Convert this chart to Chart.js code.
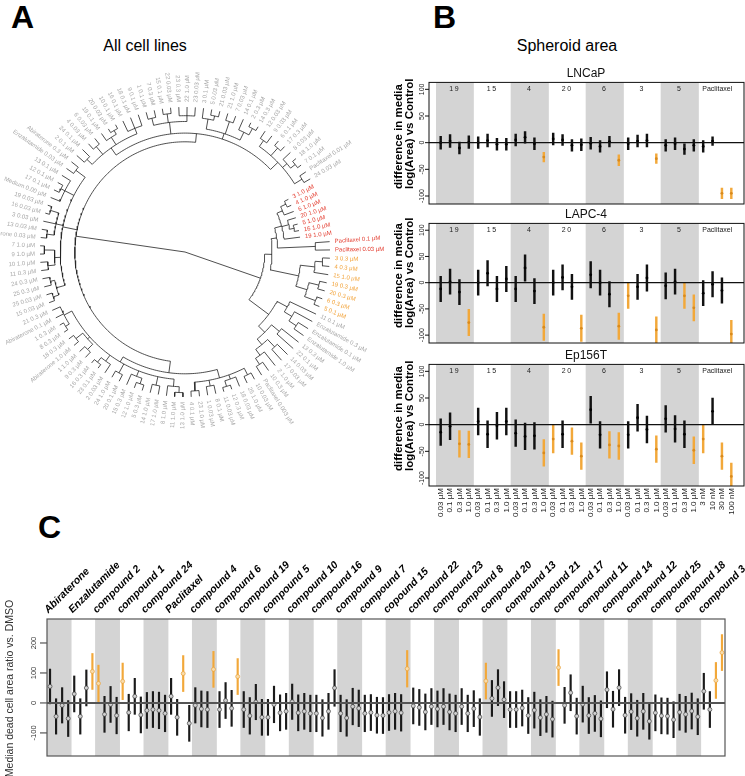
<!DOCTYPE html>
<html>
<head>
<meta charset="utf-8">
<script src="https://cdn.jsdelivr.net/npm/chart.js@4.4.1/dist/chart.umd.min.js"></script>
<style>
  html, body { margin:0; padding:0; background:#fff; }
  body { width:745px; height:776px; overflow:hidden; position:relative; font-family:'Liberation Sans', Arial, sans-serif; color:#000; }
  .abs { position:absolute; }
  .plab { font-weight:bold; font-size:32px; line-height:32px; }
  .ptitle { font-size:16px; line-height:16px; text-align:center; }
</style>
</head>
<body>
<div class="abs plab" style="left:11px; top:1px;">A</div>
<div class="abs plab" style="left:433px; top:1px;">B</div>
<div class="abs plab" style="left:38px; top:511px;">C</div>
<div class="abs ptitle" style="left:45px; width:200px; top:38px;">All cell lines</div>
<div class="abs ptitle" style="left:467px; width:200px; top:38px;">Spheroid area</div>
<canvas id="cA" class="abs" width="400" height="400" style="left:0; top:60px;"></canvas>
<canvas id="cB1" class="abs" width="375" height="146" style="left:370px; top:62px;"></canvas>
<canvas id="cB2" class="abs" width="375" height="144" style="left:370px; top:203px;"></canvas>
<canvas id="cB3" class="abs" width="375" height="182" style="left:370px; top:344px;"></canvas>
<canvas id="cC" class="abs" width="800" height="236" style="left:0; top:540px;"></canvas>
<script>
/* ================= DATA ================= */
/* Panel A: dendrogram leaves (clockwise order) */
const leafLabelsA = [
  '3 1.0 µM','4 1.0 µM','6 1.0 µM','20 1.0 µM','5 1.0 µM','16 1.0 µM','19 1.0 µM','Paclitaxel 0.1 µM','Paclitaxel 0.03 µM',
  '3 0.3 µM','4 0.3 µM','15 1.0 µM','19 0.3 µM','20 0.3 µM','6 0.3 µM','5 0.1 µM',
  '11 0.1 µM','Enzalutamide 0.3 µM','Enzalutamide 0.1 µM','Enzalutamide 1.0 µM','13 0.3 µM','22 0.1 µM','14 0.03 µM','17 0.03 µM',
  '2 1.0 µM','10 0.3 µM','Paclitaxel 0.003 µM','10 0.03 µM','25 1.0 µM','18 0.03 µM','12 0.3 µM','11 0.03 µM','8 0.1 µM',
  '1 0.03 µM','23 1.0 µM','4 0.1 µM','13 1.0 µM','11 1.0 µM','8 1.0 µM','17 1.0 µM','14 1.0 µM','5 0.3 µM','12 1.0 µM',
  '15 0.3 µM','20 0.1 µM','24 1.0 µM','2 0.03 µM','23 0.1 µM','16 0.3 µM','9 0.3 µM','1 1.0 µM','Abiraterone 1.0 µM',
  '18 0.3 µM','8 0.3 µM','1 0.3 µM','Abiraterone 0.1 µM','21 0.3 µM','15 0.03 µM','25 0.03 µM','25 0.3 µM','24 0.3 µM',
  '11 0.3 µM','10 1.0 µM','9 1.0 µM','7 1.0 µM','Abiraterone 0.03 µM','13 0.03 µM','3 0.03 µM','16 0.03 µM','19 0.03 µM',
  'Medium 0.00 µM','17 0.1 µM','12 0.1 µM','13 0.1 µM','Enzalutamide 0.03 µM','Abiraterone 0.3 µM','2 0.1 µM','24 0.1 µM',
  '4 0.03 µM','6 0.03 µM','19 0.1 µM','20 0.03 µM','10 0.1 µM','16 0.1 µM','18 0.1 µM','9 0.1 µM','1 0.1 µM','7 0.3 µM',
  '15 0.1 µM','22 0.03 µM','23 0.3 µM','22 1.0 µM','23 0.03 µM','3 0.1 µM','5 0.03 µM','21 0.03 µM','21 1.0 µM','7 0.03 µM',
  '14 0.1 µM','2 0.3 µM','14 0.3 µM','12 0.03 µM','9 0.03 µM','6 0.1 µM','17 0.3 µM','8 0.03 µM','18 1.0 µM','7 0.1 µM',
  'Paclitaxel 0.01 µM','24 0.03 µM'
];
const redLeavesA = [0,1,2,3,4,5,6,7,8];
const orangeLeavesA = [9,10,11,12,13,14,15];
/* leaves whose branches end early (shorter tip height) */
const shortTipLeavesA = [0,1,2,3,4,5,6];
/* tree: [nodeHeight(radius), child, child, ...]; leaves are indexes into leafLabelsA */
const treeA = [0,
  [0.76,
    [0.84,
      [0.9, [0.95, 27, 28], [0.93, 29, [0.97, 30, 31]], [0.94, 32, 33], [0.96, 34, 35]],
      [0.88, [0.93, [0.97, 36, 37], 38], [0.94, 39, 40], [0.92, [0.96, 41, 42], 43], [0.95, 44, 45],
             [0.93, 46, [0.97, 47, 48]], [0.9, [0.95, 49, 50], [0.96, 51, 52]], [0.94, [0.97, 53, 54], 55, 56]]],
    [0.86, [0.92, [0.96, 57, 58], [0.95, 59, 60]], [0.9, [0.95, 61, 62], [0.97, 63, 64]],
           [0.91, [0.96, 65, 66], 67, [0.97, 68, 69]], [0.93, 70, [0.96, 71, 72], 73], [0.94, 74, 75]],
    [0.82, [0.88, [0.93, 76, 77], [0.95, 78, 79], [0.94, 80, [0.97, 81, 82]], [0.92, 83, 84, 85]],
           [0.9, [0.95, 86, 87], [0.96, 88, 89], [0.94, 90, 91, 92]],
           [0.86, [0.93, 93, [0.96, 94, 95]], [0.95, 96, 97], [0.92, 98, [0.97, 99, 100]]],
           [0.89, [0.94, 101, 102], [0.96, 103, 104], [0.93, 105, [0.97, 106, 107]], [0.95, 108, 109]]]],
  [0.55,
    [0.6,
      [0.64, [0.69, [0.73, [0.77, 0, 1], 2], [0.74, 3, [0.77, 4, 5]], 6], [0.9, 7, 8]],
      [0.8, [0.9, [0.95, 9, 10], 11], [0.88, [0.95, 12, 13], [0.96, 14, 15]]]],
    [0.72, [0.8, 16, [0.86, 17, [0.92, 18, 19]]],
           [0.78, [0.85, 20, 21], [0.83, [0.9, 22, 23], [0.88, 24, [0.93, 25, 26]]]]]]
];

/* Panel B: spheroid area */
const groupsB = ['19','15','4','20','6','3','5','Paclitaxel'];
const concUM_B = ['0.03 µM','0.1 µM','0.3 µM','1.0 µM'];
const concPac_B = ['3 nM','10 nM','30 nM','100 nM'];
const yTicksB = [100, 50, 0, -50, -100];
const lncapMean = [0,3,-10,1, 0,4,-3,-3, 5,10,-2,-27, 7,5,-5,-4, -1,-7,2,-33, -2,3,4,-30, -5,-2,-12,-5, -7,3,-95,-95];
const lncapErr  = [12,12,11,12, 11,12,11,11, 11,11,11,9, 11,10,11,11, 11,11,10,10, 11,11,12,9, 11,11,10,11, 11,8,10,10];
const lncapSig  = [11,19,23,30,31];
const lapcMean  = [-12,2,-18,-76, 0,18,-12,7, -12,28,-16,-85, 0,10,-8,-87, 15,0,-22,-83, -25,-8,9,-90, -6,2,-25,-48, -20,-3,-15,-98];
const lapcErr   = [24,24,24,25, 24,24,24,24, 24,25,24,25, 24,24,24,25, 25,24,24,25, 24,24,25,25, 25,24,24,25, 24,24,24,26];
const lapcSig   = [3,11,15,19,20,23,26,27,31];
const ep156Mean = [-14,-3,-36,-37, 6,-18,-2,6, -16,-22,-21,-53, -27,-18,-31,-59, 28,-19,-38,-40, -19,13,-9,-46, 11,-8,-18,-48, -27,25,-59,-97];
const ep156Err  = [25,25,25,25, 25,25,25,25, 25,25,25,25, 26,25,25,25, 25,25,25,25, 25,25,25,25, 25,25,25,25, 26,25,25,25];
const ep156Sig  = [2,3,11,12,14,15,18,19,23,27,28,30,31];

/* Panel C: median dead cell area ratio */
const groupsC = ['Abiraterone','Enzalutamide','compound 2','compound 1','compound 24','Paclitaxel','compound 4','compound 6',
  'compound 19','compound 5','compound 10','compound 16','compound 9','compound 7','copound 15','compound 22','compound 23',
  'compound 8','compound 20','compound 13','compound 21','compound 17','compound 11','compound 14','compound 12','compound 25',
  'compound 18','compound 3'];
const concC = ['0.03 µM','0.1 µM','0.3 µM','1.0 µM'];
const yTicksC = [200, 100, 0, -100];
const meanC = [55,-45,-8,-52, 30,-45,50,105, 65,-38,-5,-42, 72,-32,22,-40, -25,-22,-25,-35, 22,-48,98,-68,
  -8,-20,-22,112, -22,8,-18,88, -22,-43,3,-48, -48,-5,-33,-28, 4,-33,-28,-35, -35,-50,-28,50,
  -35,-50,-12,-18, -35,-32,-41,-42, -32,-28,-33,114, -10,-15,-30,-12, -20,-12,-30,-35, -12,-35,-19,-47,
  73,15,51,11, -22,-22,-17,-42, -24,-49,-38,-54, 118,-8,34,-44, -4,-42,-35,-53, 44,-21,51,-41,
  -29,-51,-28,-61, -33,-43,-44,-56, -31,-38,-27,-46, 39,-22,75,168];
const errC = [58,59,59,60, 60,59,60,60, 61,60,60,61, 61,61,60,60, 60,60,61,61, 60,60,60,60,
  59,60,60,60, 60,60,60,60, 60,61,59,60, 60,61,60,60, 59,60,60,61, 61,61,60,61,
  61,61,61,61, 61,60,60,60, 60,60,61,61, 60,60,60,60, 60,60,60,61, 60,61,60,61,
  60,60,60,60, 60,60,60,60, 60,60,60,60, 60,60,60,60, 60,60,60,60, 60,60,60,60,
  60,60,60,60, 60,60,60,60, 60,60,60,60, 60,60,60,60];
const sigC = [7,8,12,22,27,31,59,72,84,110,111];

/* ================= RENDER ================= */
const FONT = "'Liberation Sans', Arial, Helvetica, sans-serif";
Chart.defaults.font.family = FONT;
Chart.defaults.animation = false;
Chart.defaults.events = [];
Chart.defaults.plugins.legend.display = false;
Chart.defaults.plugins.tooltip.enabled = false;
const BLACK = '#111111', ORANGE = '#f2a83a', BAND = '#d4d4d4';

/* ---------- Panel A ---------- */
const firstLeafAngleA = 27;
const stepA = 360 / leafLabelsA.length;
const leafAngle = i => (firstLeafAngleA - i * stepA) * Math.PI / 180;
const tipR = i => shortTipLeavesA.includes(i) ? 0.8 : 1;
const segsA = [];
const GAP = {x: NaN, y: NaN};
const P = (r, t) => ({x: r * Math.cos(t), y: r * Math.sin(t)});
function walk(node) {
  if (typeof node === 'number') return {a: leafAngle(node), r: tipR(node)};
  const r = node[0];
  const kids = node.slice(1).map(walk);
  const angs = kids.map(k => k.a);
  const a0 = Math.min(...angs), a1 = Math.max(...angs);
  if (r > 0) {
    const n = Math.max(2, Math.ceil((a1 - a0) / (Math.PI / 180)));
    for (let k = 0; k <= n; k++) segsA.push(P(r, a0 + (a1 - a0) * k / n));
    segsA.push(GAP);
  }
  kids.forEach(k => { segsA.push(P(r, k.a), P(k.r, k.a), GAP); });
  return {a: angs.reduce((s, v) => s + v, 0) / angs.length, r};
}
walk(treeA);

new Chart(document.getElementById('cA'), {
  type: 'scatter',
  data: { datasets: [{ data: segsA, showLine: true, spanGaps: false, pointRadius: 0, borderColor: '#222', borderWidth: 0.8 }] },
  options: {
    responsive: false, layout: { padding: 0 },
    scales: {
      x: { type: 'linear', min: -185 / 145, max: (400 - 185) / 145, display: false },
      y: { type: 'linear', min: -(400 - 192) / 145, max: 192 / 145, display: false }
    }
  },
  plugins: [{
    id: 'leafLabels',
    afterDatasetsDraw(chart) {
      const ctx = chart.ctx, xs = chart.scales.x, ys = chart.scales.y;
      ctx.save();
      ctx.font = '6px ' + FONT;
      ctx.textBaseline = 'middle';
      leafLabelsA.forEach((lab, i) => {
        const t = leafAngle(i), r = tipR(i) + 0.035;
        const px = xs.getPixelForValue(r * Math.cos(t)), py = ys.getPixelForValue(r * Math.sin(t));
        ctx.fillStyle = redLeavesA.includes(i) ? '#e33b2e' : orangeLeavesA.includes(i) ? '#f2a33a' : '#a8a8a8';
        ctx.save(); ctx.translate(px, py);
        if (Math.cos(t) >= 0) { ctx.rotate(-t); ctx.textAlign = 'left'; }
        else { ctx.rotate(Math.PI - t); ctx.textAlign = 'right'; }
        ctx.fillText(lab, 0, 0);
        ctx.restore();
      });
      ctx.restore();
    }
  }]
});

/* ---------- generic decoration (box, zero line, rotated y ticks, titles) ---------- */
function decor(o) {
  return {
    id: 'decor',
    afterDatasetsDraw(chart) {
      const ctx = chart.ctx, a = chart.chartArea, ys = chart.scales.y;
      const L = a.left - o.padL, R = a.right + o.padR;
      ctx.save();
      const y0 = ys.getPixelForValue(0);
      ctx.strokeStyle = o.zeroColor; ctx.lineWidth = o.zeroWidth;
      ctx.beginPath(); ctx.moveTo(L, y0); ctx.lineTo(R, y0); ctx.stroke();
      ctx.strokeStyle = o.boxColor; ctx.lineWidth = o.boxWidth;
      ctx.strokeRect(L, a.top, R - L, a.bottom - a.top);
      ctx.font = o.tickFont; ctx.fillStyle = o.tickColor; ctx.textAlign = 'center'; ctx.textBaseline = 'middle';
      o.ticks.forEach(v => {
        const y = ys.getPixelForValue(v);
        ctx.beginPath(); ctx.moveTo(L - o.tickLen, y); ctx.lineTo(L, y); ctx.stroke();
        ctx.save(); ctx.translate(L - o.labelGap, y); ctx.rotate(-Math.PI / 2); ctx.fillText(String(v), 0, 0); ctx.restore();
      });
      if (o.groupLabels) {
        const xg = chart.scales.xg;
        ctx.font = o.groupFont; ctx.fillStyle = '#222';
        o.groupLabels.forEach((g, i) => {
          if ('letterSpacing' in ctx) ctx.letterSpacing = /^\d+$/.test(g) ? '1.5px' : '0px';
          ctx.fillText(g, xg.getPixelForValue(i), a.top + 6.5);
        });
        if ('letterSpacing' in ctx) ctx.letterSpacing = '0px';
      }
      ctx.font = o.titleFont; ctx.fillStyle = o.titleColor;
      o.titleLines.forEach(tl => {
        ctx.save(); ctx.translate(L + tl.dx, tl.y(a)); ctx.rotate(-Math.PI / 2);
        ctx.textAlign = tl.align; ctx.textBaseline = 'middle'; ctx.fillText(tl.text, 0, 0); ctx.restore();
      });
      ctx.restore();
    }
  };
}

/* ---------- Panel B ---------- */
const yMinB = -115, yMaxB = 113;
const concLabelsB = groupsB.flatMap((g, i) => i < groupsB.length - 1 ? concUM_B : concPac_B);
const decorB = decor({
  padL: 7, padR: 8, zeroColor: '#111', zeroWidth: 1.3, boxColor: '#111', boxWidth: 1,
  ticks: yTicksB, tickLen: 4, labelGap: 7, tickFont: '7px ' + FONT, tickColor: '#222',
  groupLabels: groupsB, groupFont: '7px ' + FONT,
  titleFont: 'bold 11.5px ' + FONT, titleColor: '#000',
  titleLines: [
    { text: 'difference in media', dx: -30, align: 'left', y: a => a.bottom - 15 },
    { text: 'log(Area) vs Control', dx: -19, align: 'left', y: a => a.bottom - 15 }
  ]
});
function makeB(id, name, mean, err, sig, showX) {
  const flag = mean.map((_, i) => sig.includes(i));
  const xScale = { type: 'category', offset: true, display: showX, grid: { display: false, drawTicks: false }, border: { display: false },
    ticks: { autoSkip: false, minRotation: 90, maxRotation: 90, padding: 2, color: '#222', font: { size: 8 } } };
  if (showX) xScale.afterFit = s => { s.height = 36; s.paddingLeft = 0; s.paddingRight = 0; };
  return new Chart(document.getElementById(id), {
    type: 'bar',
    data: {
      labels: concLabelsB,
      datasets: [
        { data: groupsB.map((_, i) => i % 2 === 0 ? [yMinB, yMaxB] : null), xAxisID: 'xg', backgroundColor: BAND,
          barPercentage: 1, categoryPercentage: 1, grouped: false, order: 3 },
        { data: mean.map((m, i) => [m - err[i], m + err[i]]), xAxisID: 'x',
          backgroundColor: flag.map(s => s ? ORANGE : BLACK), barThickness: 1.8, grouped: false, order: 2 },
        { type: 'line', data: mean, xAxisID: 'x', showLine: false, pointRadius: 1.4, pointBorderWidth: 0,
          pointBackgroundColor: flag.map(s => s ? '#d98a1c' : '#000'), order: 1 }
      ]
    },
    options: {
      responsive: false,
      layout: { padding: { left: 66, right: 9, top: 0, bottom: showX ? 4 : 3 } },
      scales: {
        x: xScale,
        xg: { type: 'category', labels: groupsB, offset: true, display: false },
        y: { type: 'linear', min: yMinB, max: yMaxB, display: false }
      },
      plugins: { title: { display: true, text: name, color: '#111', font: { size: 12, weight: 'normal' }, padding: { top: 4, bottom: 2 } } }
    },
    plugins: [decorB]
  });
}
makeB('cB1', 'LNCaP', lncapMean, lncapErr, lncapSig, false);
makeB('cB2', 'LAPC-4', lapcMean, lapcErr, lapcSig, false);
makeB('cB3', 'Ep156T', ep156Mean, ep156Err, ep156Sig, true);

/* ---------- Panel C ---------- */
const yMinC = -177, yMaxC = 280;
const colLabelsC = groupsC.flatMap(g => concC.map(c => g + ' ' + c));
const flagC = meanC.map((_, i) => sigC.includes(i));
new Chart(document.getElementById('cC'), {
  type: 'bar',
  data: {
    labels: colLabelsC,
    datasets: [
      { data: groupsC.map((_, i) => i % 2 === 0 ? [yMinC, yMaxC] : null), xAxisID: 'xg', backgroundColor: BAND,
        barPercentage: 1, categoryPercentage: 1, grouped: false, order: 3 },
      { data: meanC.map((m, i) => [m - errC[i], m + errC[i]]), xAxisID: 'x',
        backgroundColor: flagC.map(s => s ? ORANGE : '#1a1a1a'), barThickness: 1.5, grouped: false, order: 2 },
      { type: 'line', data: meanC, xAxisID: 'x', showLine: false, pointRadius: 2, pointBorderWidth: 0.7,
        pointBackgroundColor: flagC.map(s => s ? '#f9dcaa' : '#d0d0d0'),
        pointBorderColor: flagC.map(s => s ? '#e8a23c' : '#444'), order: 1 }
    ]
  },
  options: {
    responsive: false,
    layout: { padding: { left: 47, right: 75, top: 4, bottom: 20 } },
    scales: {
      x: { type: 'category', offset: true, display: false },
      xg: { type: 'category', labels: groupsC, offset: true, position: 'top',
            grid: { display: false, drawTicks: false }, border: { display: false },
            ticks: { autoSkip: false, minRotation: 45, maxRotation: 45, padding: 3, labelOffset: -4, color: '#000',
                     font: { size: 10.5, weight: 'bold', style: 'italic' } },
            afterFit(s) { s.height = 75; s.paddingLeft = 0; s.paddingRight = 0; } },
      y: { type: 'linear', min: yMinC, max: yMaxC, display: false }
    }
  },
  plugins: [decor({
    padL: 0, padR: 0, zeroColor: '#555', zeroWidth: 2, boxColor: '#555', boxWidth: 1.2,
    ticks: yTicksC, tickLen: 7, labelGap: 13, tickFont: '7.5px ' + FONT, tickColor: '#333',
    titleFont: '10.5px ' + FONT, titleColor: '#333',
    titleLines: [ { text: 'Median dead cell area ratio vs. DMSO', dx: -37, align: 'center', y: a => (a.top + a.bottom) / 2 + 1 } ]
  })]
});
</script>
</body>
</html>
